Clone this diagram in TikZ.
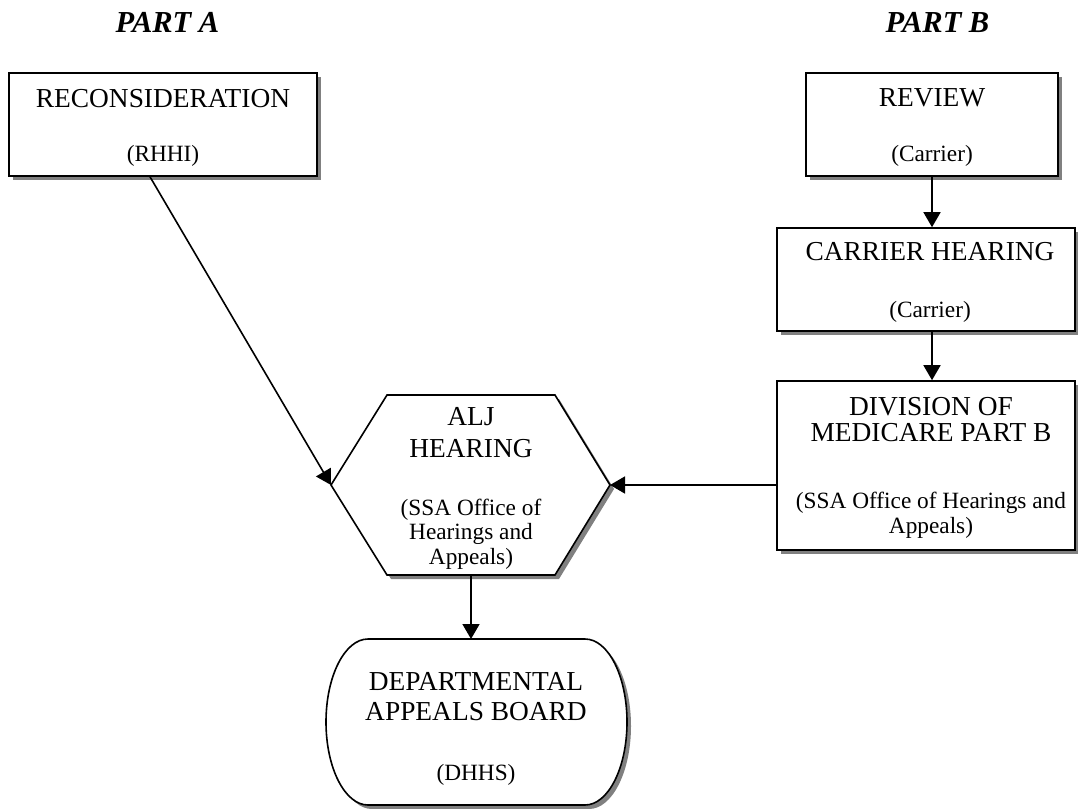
\documentclass[tikz,border=0pt]{standalone}
\usepackage{fontspec}
\setmainfont{Liberation Serif}
\usetikzlibrary{arrows.meta,shadows}
\begin{document}
\begin{tikzpicture}[x=1pt,y=-1pt,
  box/.style={draw, line width=1.6pt, fill=white, inner sep=0pt,
    drop shadow={shadow xshift=4pt, shadow yshift=-4pt, fill=black!50, opacity=1}},
  shapeline/.style={draw, line width=1.6pt, fill=white},
  shadowfill/.style={fill=black!50},
  arr/.style={line width=1.6pt, -{Triangle[length=15pt,width=17pt]}},
  ttl/.style={font=\fontsize{27.4}{30}\selectfont, anchor=base, inner sep=0pt},
  sub/.style={font=\fontsize{23.3}{26}\selectfont, anchor=base, inner sep=0pt},
  part/.style={font=\bfseries\itshape\fontsize{30.5}{34}\selectfont, anchor=base, inner sep=0pt}]
\useasboundingbox (0,0) rectangle (1078,808);
\fill[white] (0,0) rectangle (1078,808);

% titles
\node[part] (pa) at (167.5,33) {PART A};
\node[part] (pb) at (937.5,33) {PART B};

% boxes
\node[box, minimum width=308pt, minimum height=103pt] (recon) at (163,124.5) {};
\node[ttl] (reconT) at (163,107) {RECONSIDERATION};
\node[sub] (reconS) at (163,161) {(RHHI)};

\node[box, minimum width=252pt, minimum height=103pt] (review) at (932,124.5) {};
\node[ttl] (reviewT) at (932,106) {REVIEW};
\node[sub] (reviewS) at (932,161) {(Carrier)};

\node[box, minimum width=298pt, minimum height=103pt] (carrier) at (926,279.5) {};
\node[ttl] (carrierT) at (930,260) {CARRIER HEARING};
\node[sub] (carrierS) at (930,317) {(Carrier)};

\node[box, minimum width=298pt, minimum height=169pt] (division) at (926,465.5) {};
\node[ttl] (divT1) at (931,415) {DIVISION OF};
\node[ttl] (divT2) at (931,441) {MEDICARE PART B};
\node[sub] (divS1) at (931,508) {(SSA Office of Hearings and};
\node[sub] (divS2) at (931,533) {Appeals)};

% hexagon
\coordinate (hexL) at (331,485);
\coordinate (hexR) at (610,485);
\coordinate (hexB) at (471,575);
\fill[shadowfill, shift={(4,4)}] (387,395) -- (555,395) -- (610,485) -- (555,575) -- (387,575) -- (331,485) -- cycle;
\path[shapeline] (387,395) -- (555,395) -- (hexR) -- (555,575) -- (387,575) -- (hexL) -- cycle;
\node[ttl] (aljT1) at (471,425) {ALJ};
\node[ttl] (aljT2) at (471,457) {HEARING};
\node[sub] (aljS1) at (471,515) {(SSA Office of};
\node[sub] (aljS2) at (471,539) {Hearings and};
\node[sub] (aljS3) at (471,564) {Appeals)};

% departmental appeals board
\coordinate (dab) at (471,639);
\fill[shadowfill, shift={(4,4)}] (368,639) -- (585,639)
  .. controls (608.2,639) and (627,676.2) .. (627,722)
  .. controls (627,767.8) and (608.2,805) .. (585,805)
  -- (368,805)
  .. controls (344.8,805) and (326,767.8) .. (326,722)
  .. controls (326,676.2) and (344.8,639) .. (368,639) -- cycle;
\path[shapeline] (368,639) -- (585,639)
  .. controls (608.2,639) and (627,676.2) .. (627,722)
  .. controls (627,767.8) and (608.2,805) .. (585,805)
  -- (368,805)
  .. controls (344.8,805) and (326,767.8) .. (326,722)
  .. controls (326,676.2) and (344.8,639) .. (368,639) -- cycle;
\node[ttl] (dabT1) at (476,690) {DEPARTMENTAL};
\node[ttl] (dabT2) at (476,720) {APPEALS BOARD};
\node[sub] (dabS) at (476,780) {(DHHS)};

% connectors
\draw[arr] ([xshift=-13pt]recon.south) -- (hexL);
\draw[arr] (review.south) -- (review.south |- carrier.north);
\draw[arr] (review.south |- carrier.south) -- (review.south |- division.north);
\draw[arr] (division.west |- hexR) -- (hexR);
\draw[arr] (hexB) -- (dab);
\end{tikzpicture}
\end{document}
